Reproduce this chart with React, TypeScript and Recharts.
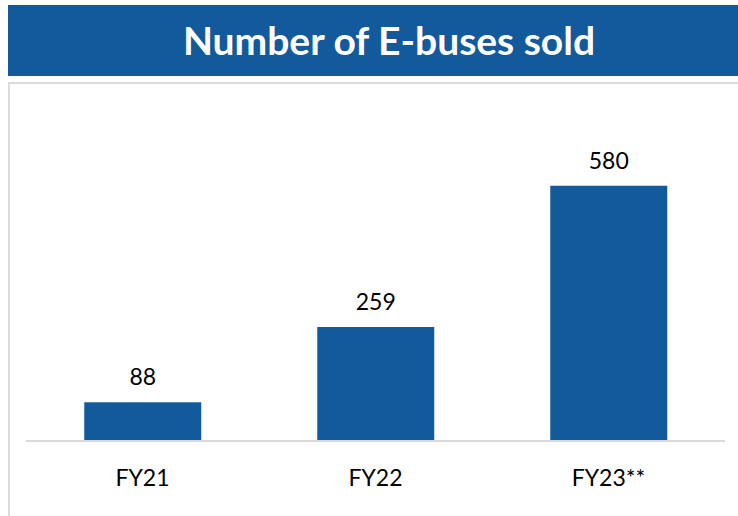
import { BarChart, Bar, XAxis, YAxis, LabelList, ReferenceLine } from 'recharts'

const categories = ['FY21', 'FY22', 'FY23**']
const busesSold = [88, 259, 580]

const data = categories.map((fy, i) => ({ fy, sold: busesSold[i] }))

const BLUE = '#135a9c'

export default function App() {
    return (
        <div style={{ position: 'absolute', left: 0, top: 0, width: 738, height: 516, overflow: 'hidden', background: '#fff', fontFamily: 'Lato, sans-serif' }}>
            <div
                style={{
                    position: 'absolute', left: 8, top: 5, width: 740, height: 71, background: BLUE,
                    color: '#fff', fontWeight: 700, fontSize: 39, lineHeight: '70px', boxSizing: 'border-box',
                    paddingLeft: 22, textAlign: 'center',
                }}
            >
                Number of E-buses sold
            </div>
            <div style={{ position: 'absolute', left: 8, top: 82, width: 760, height: 460, border: '2px solid #dcdcdc', boxSizing: 'border-box' }} />
            <div style={{ position: 'absolute', left: 0, top: 0 }}>
                <BarChart width={738} height={516} data={data} barCategoryGap="25%" margin={{ top: 133, right: 13, bottom: 45, left: 26 }}>
                    <XAxis
                        dataKey="fy"
                        height={30}
                        axisLine={false}
                        tickLine={false}
                        tickSize={0}
                        tickMargin={29}
                        tick={{ fill: '#000', fontSize: 23, fontFamily: 'Lato, sans-serif' }}
                    />
                    <YAxis hide domain={[0, 700]} />
                    <ReferenceLine y={0} stroke="#d9d9d9" strokeWidth={2} />
                    <Bar dataKey="sold" fill={BLUE} isAnimationActive={false}>
                        <LabelList dataKey="sold" position="top" offset={17} fill="#000" fontSize={23} fontFamily="Lato, sans-serif" />
                    </Bar>
                </BarChart>
            </div>
        </div>
    )
}
